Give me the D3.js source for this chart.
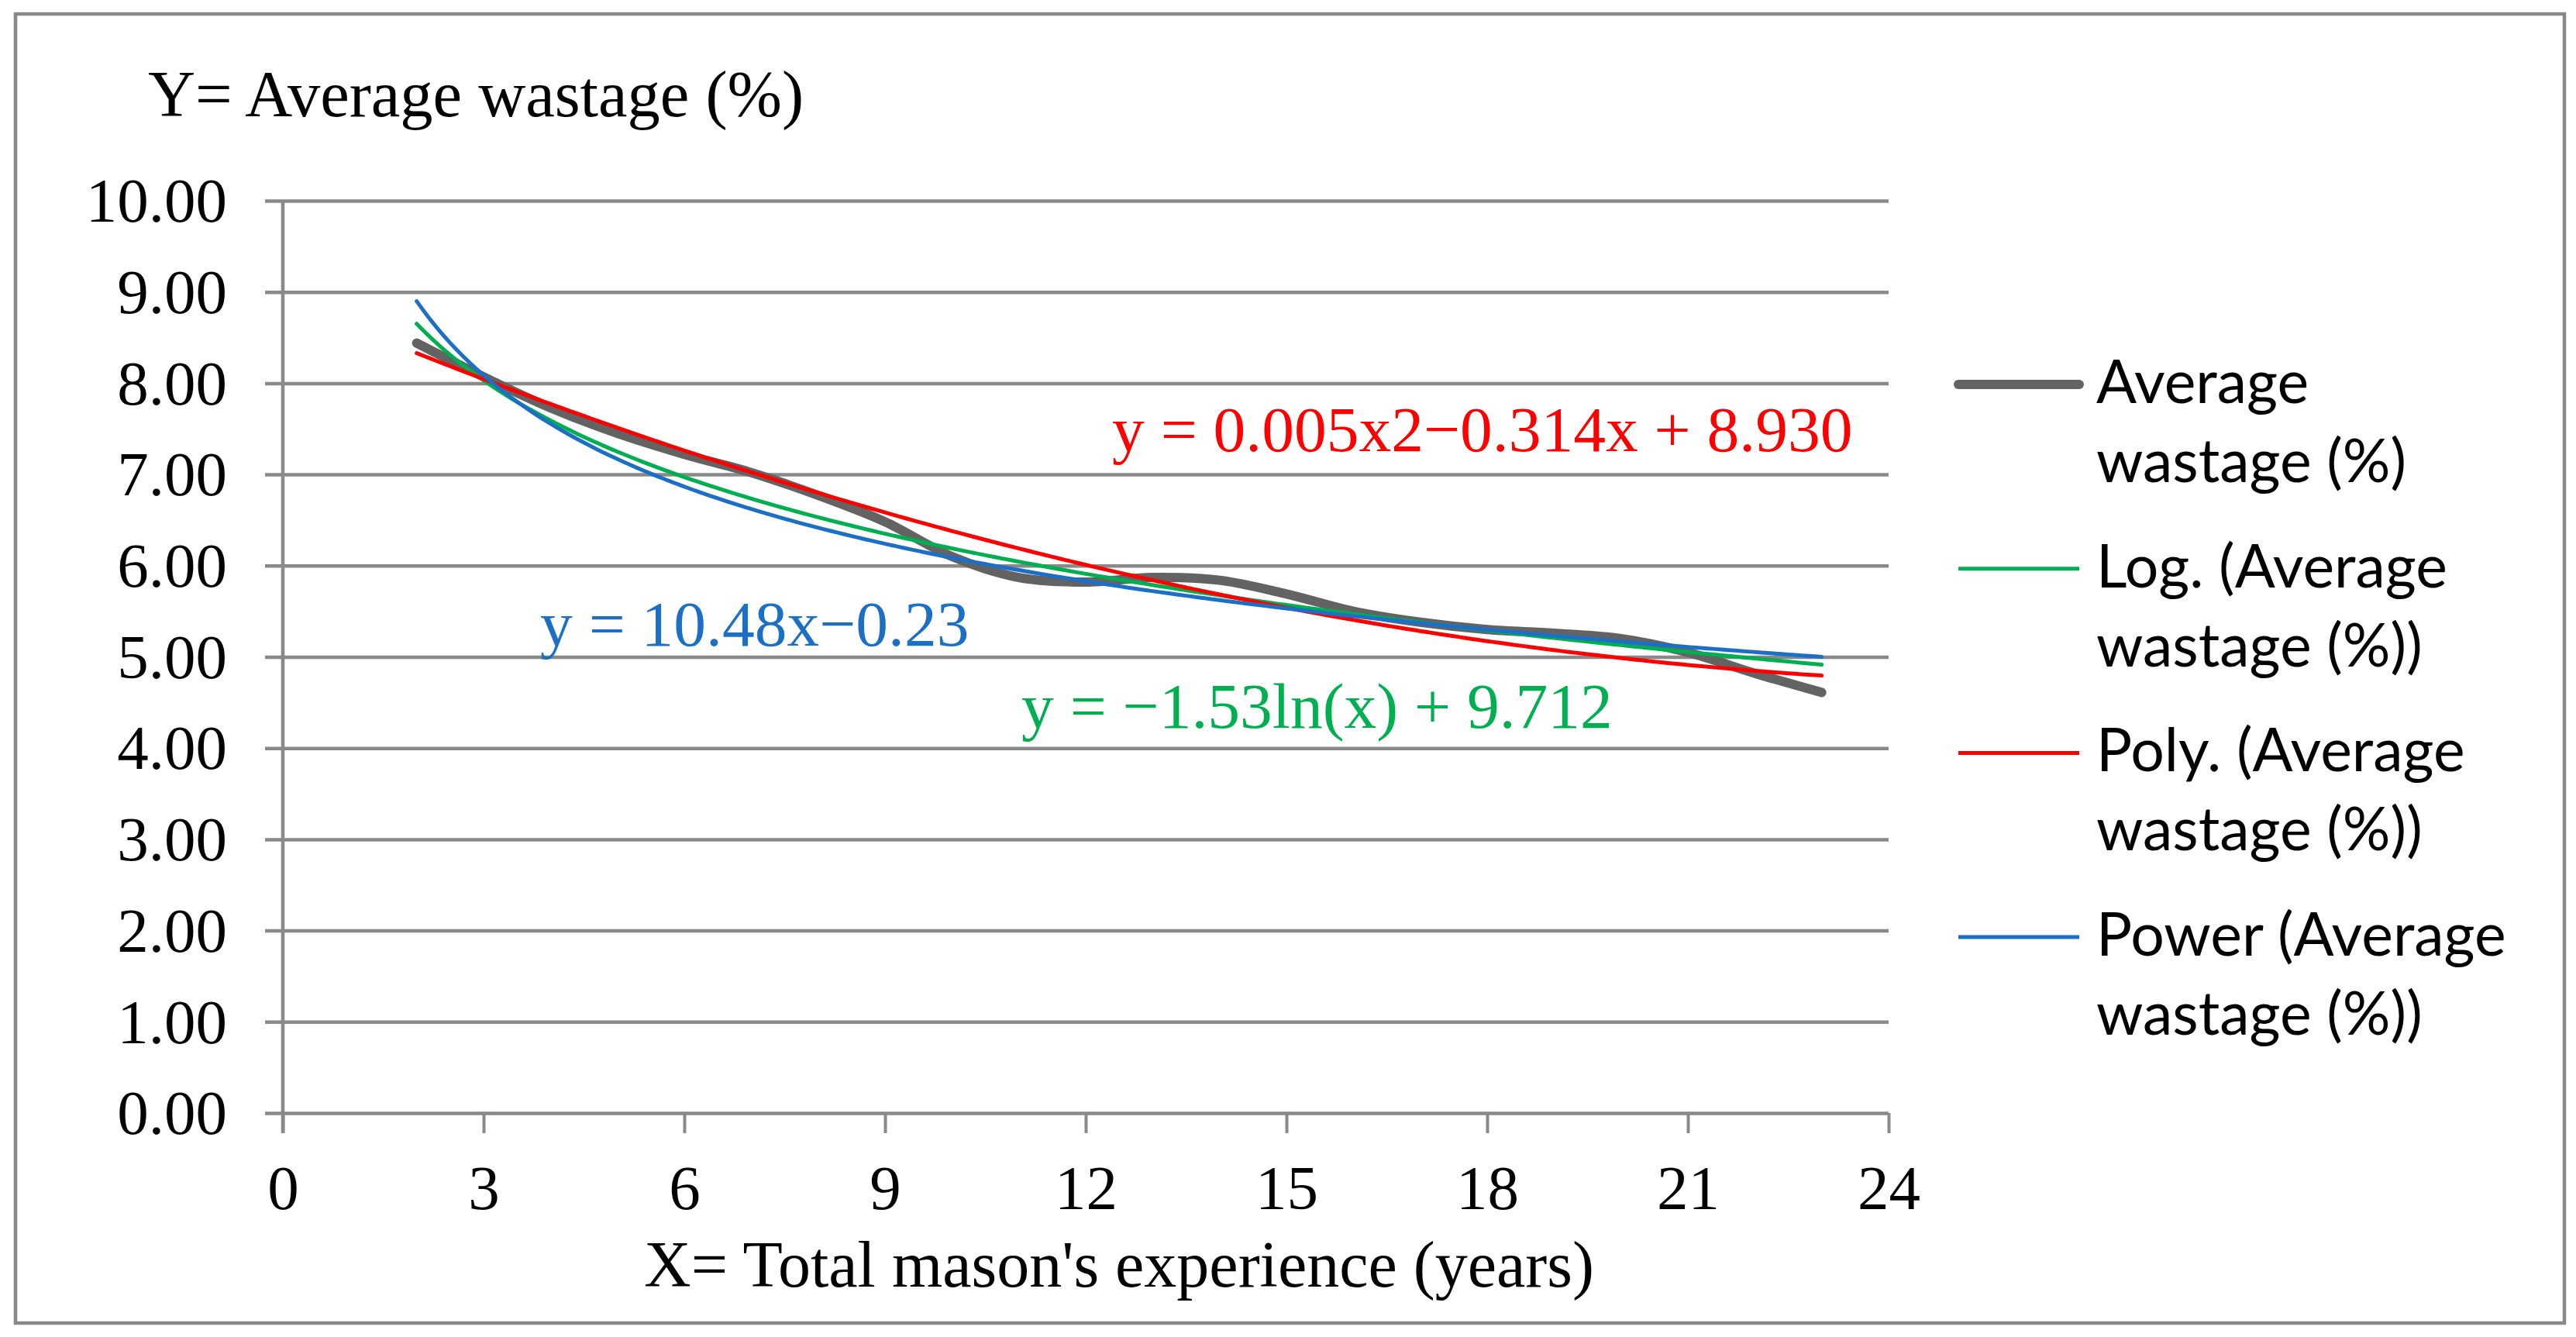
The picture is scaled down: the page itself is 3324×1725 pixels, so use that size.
<!DOCTYPE html>
<html>
<head>
<meta charset="utf-8">
<script src="https://cdn.jsdelivr.net/npm/d3@7"></script>
<style>
  html, body { margin: 0; padding: 0; background: #fff; }
  .serif { font-family: "Liberation Serif", "Times New Roman", serif; }
  .sans { font-family: Lato, "Open Sans", sans-serif; }
</style>
</head>
<body>
<svg id="chart" width="3324" height="1725"></svg>
<script>
// data
const experience = [2, 3, 4, 5, 6, 7, 8, 9, 10, 11, 12, 13, 14, 15, 16, 17, 18, 19, 20, 21, 22, 23];
const wastage = [8.44, 8.07, 7.73, 7.45, 7.22, 7.02, 6.77, 6.48, 6.10, 5.87, 5.82, 5.87, 5.84, 5.69, 5.50, 5.38, 5.30, 5.26, 5.20, 5.05, 4.82, 4.61];

// trendline coefficients, as drawn in the picture
const logCoef = [9.712, -1.53];          // a + b ln(x)
const polyCoef = [8.933, -0.3133, 0.0058]; // c + b x + a x^2
const powerCoef = [10.48, -0.236];       // a x^b

const yTicks = [0, 1, 2, 3, 4, 5, 6, 7, 8, 9, 10];
const xTicks = [0, 3, 6, 9, 12, 15, 18, 21, 24];
const legendLabels = [
  ["Average", "wastage (%)"],
  ["Log. (Average", "wastage (%))"],
  ["Poly. (Average", "wastage (%))"],
  ["Power (Average", "wastage (%))"]
];
const equationLabels = [
  { text: "y = 0.005x2\u22120.314x + 8.930", color: "#FF0000" },
  { text: "y = 10.48x\u22120.23", color: "#1B6FC6" },
  { text: "y = \u22121.53ln(x) + 9.712", color: "#00B050" }
];

const W = 3324, H = 1725;
const plotLeft = 365, plotRight = 2437, plotTop = 259, plotBottom = 1436;
const gridColor = "#898989";

const svg = d3.select("#chart");

svg.append("rect")
  .attr("x", 0).attr("y", 0).attr("width", W).attr("height", H)
  .attr("fill", "#fff");

// outer frame
svg.append("rect")
  .attr("x", 20).attr("y", 18).attr("width", 3289).attr("height", 1689)
  .attr("fill", "none")
  .attr("stroke", gridColor)
  .attr("stroke-width", 4.5);

const x = d3.scaleLinear().domain([0, 24]).range([plotLeft, plotRight]);
const y = d3.scaleLinear().domain([0, 10]).range([plotBottom, plotTop]);

// horizontal gridlines + y labels
const yAxis = svg.append("g").attr("transform", `translate(${plotLeft},0)`)
  .call(d3.axisLeft(y)
    .tickValues(yTicks)
    .tickSize(-(plotRight - plotLeft))
    .tickSizeOuter(0)
    .tickPadding(0)
    .tickFormat(d => d.toFixed(2)));
yAxis.select(".domain").remove();
yAxis.selectAll(".tick line")
  .attr("x1", -23)
  .attr("stroke", gridColor)
  .attr("stroke-width", 4.5);
yAxis.selectAll(".tick text")
  .attr("class", "serif")
  .attr("x", -72)
  .attr("dy", "0.33em")
  .attr("fill", "#000")
  .style("font-size", "81px");

// vertical axis line
svg.append("line")
  .attr("x1", plotLeft).attr("x2", plotLeft)
  .attr("y1", plotTop).attr("y2", plotBottom + 26)
  .attr("stroke", gridColor)
  .attr("stroke-width", 4.5);

// x axis ticks + labels
const xAxis = svg.append("g").attr("transform", `translate(0,${plotBottom})`)
  .call(d3.axisBottom(x)
    .tickValues(xTicks)
    .tickSize(26)
    .tickSizeOuter(0)
    .tickPadding(0));
xAxis.select(".domain").remove();
xAxis.selectAll(".tick line")
  .attr("stroke", gridColor)
  .attr("stroke-width", 4);
xAxis.selectAll(".tick text")
  .attr("class", "serif")
  .attr("y", 124)
  .attr("dy", 0)
  .attr("fill", "#000")
  .style("font-size", "81px");

// axis titles
svg.append("text")
  .attr("class", "serif")
  .attr("x", 191).attr("y", 150)
  .style("font-size", "84.5px")
  .text("Y= Average wastage (%)");

svg.append("text")
  .attr("class", "serif")
  .attr("x", 1444).attr("y", 1660)
  .attr("text-anchor", "middle")
  .style("font-size", "84px")
  .text("X= Total mason's experience (years)");

const pts = experience.map((e, i) => ({ x: e, y: wastage[i] }));

const xs = d3.range(experience[0], experience[experience.length - 1] + 0.001, 0.1);
const trends = [
  { color: "#00B050", f: v => logCoef[0] + logCoef[1] * Math.log(v) },
  { color: "#FF0000", f: v => polyCoef[0] + polyCoef[1] * v + polyCoef[2] * v * v },
  { color: "#1B6FC6", f: v => powerCoef[0] * Math.pow(v, powerCoef[1]) }
];

const trendLine = d3.line().x(d => x(d.x)).y(d => y(d.y));

// average series (smoothed)
svg.append("path")
  .datum(pts)
  .attr("d", d3.line().x(d => x(d.x)).y(d => y(d.y)).curve(d3.curveCatmullRom.alpha(0.5)))
  .attr("fill", "none")
  .attr("stroke", "#636363")
  .attr("stroke-width", 12)
  .attr("stroke-linecap", "round")
  .attr("stroke-linejoin", "round");

svg.selectAll(".trend")
  .data(trends)
  .join("path")
    .attr("class", "trend")
    .attr("d", t => trendLine(xs.map(v => ({ x: v, y: t.f(v) }))))
    .attr("fill", "none")
    .attr("stroke", t => t.color)
    .attr("stroke-width", 5)
    .attr("stroke-linecap", "round");

// equation labels
const eqPos = [[1435, 582], [697, 833], [1318, 939]];
svg.selectAll(".eq")
  .data(equationLabels)
  .join("text")
    .attr("class", "eq serif")
    .attr("x", (d, i) => eqPos[i][0])
    .attr("y", (d, i) => eqPos[i][1])
    .attr("fill", d => d.color)
    .style("font-size", "83.5px")
    .text(d => d.text);

// legend
const legendColors = ["#636363", "#00B050", "#FF0000", "#1B6FC6"];
const legend = svg.append("g");
const entry = legend.selectAll(".entry")
  .data(legendLabels)
  .join("g")
    .attr("class", "entry")
    .attr("transform", (d, i) => `translate(0,${496 + i * 237.7})`);

entry.append("line")
  .attr("x1", 2527).attr("x2", 2683)
  .attr("stroke", (d, i) => legendColors[i])
  .attr("stroke-width", (d, i) => i === 0 ? 12 : 5)
  .attr("stroke-linecap", (d, i) => i === 0 ? "round" : "butt");

entry.append("text")
  .attr("class", "sans")
  .attr("x", 2705)
  .style("font-size", "77px")
  .selectAll("tspan")
  .data(d => d)
  .join("tspan")
    .attr("x", 2705)
    .attr("y", (d, i) => 24 + i * 102)
    .text(d => d);
</script>
</body>
</html>
